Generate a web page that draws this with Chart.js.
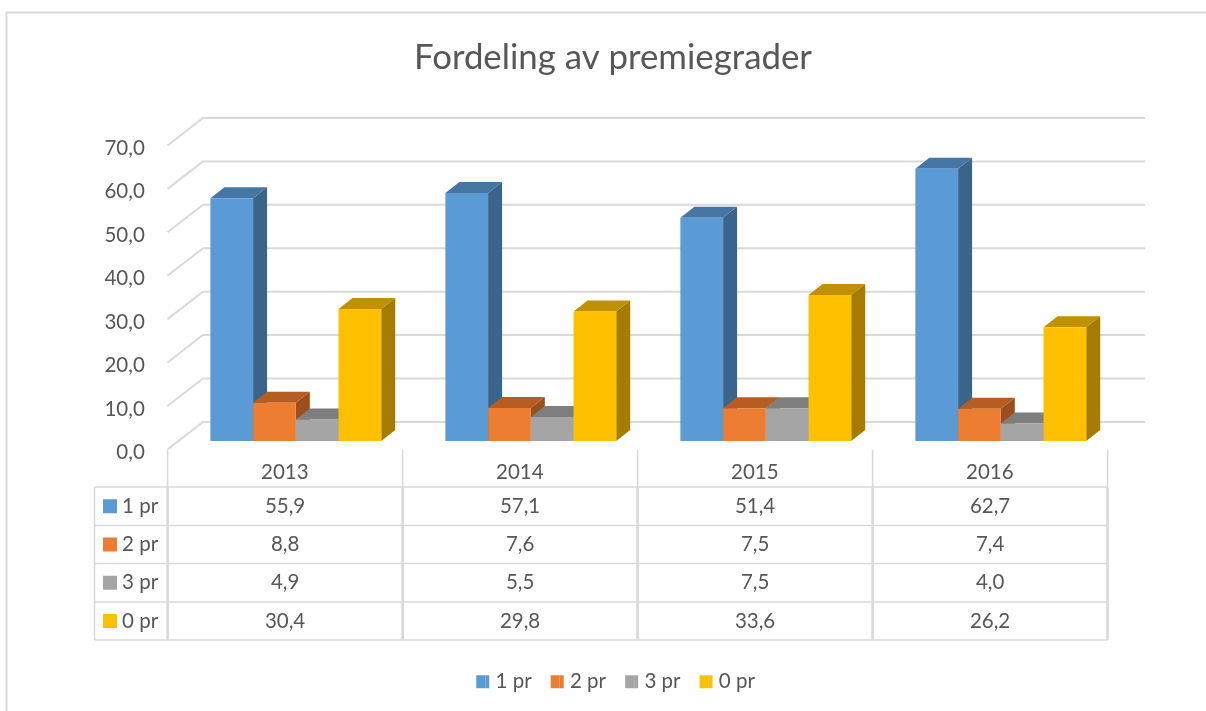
<!DOCTYPE html>
<html>
<head>
<meta charset="utf-8">
<style>html,body{margin:0;padding:0;background:#fff}canvas{display:block}</style>
<script src="https://cdn.jsdelivr.net/npm/chart.js@4"></script>
</head>
<body>
<canvas id="c" width="1206" height="711"></canvas>
<script>
const categories = ['2013', '2014', '2015', '2016'];
const seriesNames = ['1 pr', '2 pr', '3 pr', '0 pr'];
const pr1 = [55.9, 57.1, 51.4, 62.7];
const pr2 = [8.8, 7.6, 7.5, 7.4];
const pr3 = [4.9, 5.5, 7.5, 4.0];
const pr0 = [30.4, 29.8, 33.6, 26.2];
const frontColors = ['#5B9BD5', '#ED7D31', '#A5A5A5', '#FFC000'];
const topColors = ['#4676A3', '#B55D22', '#7E7E7E', '#C09100'];
const sideColors = ['#3A6489', '#9A4F1D', '#6A6A6A', '#A67C00'];
const allSeries = [pr1, pr2, pr3, pr0];

const GRID = '#d9d9d9', TEXT = '#575757';
const FONT = 'Lato', TXT = 20.5;
const fmt = v => Number(v).toFixed(1).replace('.', ',');
const titleShift = 9.7, legendShift = 12.3;

const depthPlugin = {
  id: 'depth',
  afterLayout(chart) {
    const t = chart.titleBlock, l = chart.legend;
    t.left += titleShift; t.right += titleShift;
    l.left += legendShift; l.right += legendShift;
  },
  beforeDraw(chart) {
    const c = chart.ctx;
    c.save();
    c.strokeStyle = GRID; c.lineWidth = 2;
    c.beginPath(); c.moveTo(6.5, 711); c.lineTo(6.5, 12.5); c.lineTo(1206, 12.5); c.stroke();
    c.restore();
  },
  beforeDatasetsDraw(chart) {
    const c = chart.ctx, y = chart.scales.y;
    c.save();
    c.strokeStyle = GRID; c.lineWidth = 2;
    y.ticks.forEach(t => {
      const p = y.getPixelForValue(t.value);
      c.beginPath();
      c.moveTo(167.5, p + 8.5);
      c.lineTo(203, p - 19);
      c.lineTo(1145, p - 19);
      c.stroke();
    });
    const dx = 14, dy = 11;
    categories.forEach((_, j) => {
      allSeries.forEach((_, i) => {
        const b = chart.getDatasetMeta(i).data[j];
        const l = b.x - b.width / 2, r = b.x + b.width / 2;
        c.fillStyle = topColors[i];
        c.beginPath();
        c.moveTo(l, b.y); c.lineTo(l + dx, b.y - dy); c.lineTo(r + dx, b.y - dy); c.lineTo(r, b.y);
        c.closePath(); c.fill();
        c.fillStyle = sideColors[i];
        c.beginPath();
        c.moveTo(r, b.y); c.lineTo(r + dx, b.y - dy); c.lineTo(r + dx, b.base - dy); c.lineTo(r, b.base);
        c.closePath(); c.fill();
      });
    });
    c.restore();
  },
  afterDraw(chart) {
    const c = chart.ctx, x = chart.scales.x;
    const shift = -10.7;
    const rows = [487, 525.5, 563.5, 602, 640];
    const left = 94.5;
    const band = x.getPixelForValue(1) - x.getPixelForValue(0);
    const vx = i => x.getPixelForValue(0) - band / 2 + i * band + shift;
    c.save();
    c.strokeStyle = GRID; c.lineWidth = 1.6;
    rows.forEach(r => { c.beginPath(); c.moveTo(left, r); c.lineTo(vx(4), r); c.stroke(); });
    c.beginPath(); c.moveTo(left, rows[0]); c.lineTo(left, rows[4]); c.stroke();
    for (let i = 0; i <= 4; i++) {
      c.lineWidth = 1.6;
      c.beginPath(); c.moveTo(vx(i), 450); c.lineTo(vx(i), rows[0]); c.stroke();
      c.lineWidth = 2.6;
      c.beginPath(); c.moveTo(vx(i), rows[0]); c.lineTo(vx(i), rows[4]); c.stroke();
    }
    c.font = TXT + 'px ' + FONT; c.textBaseline = 'middle';
    allSeries.forEach((s, i) => {
      const cy = (rows[i] + rows[i + 1]) / 2;
      c.fillStyle = frontColors[i];
      c.fillRect(103, cy - 7, 14, 14);
      c.fillStyle = TEXT;
      c.textAlign = 'left';
      c.fillText(seriesNames[i], 122, cy);
      c.textAlign = 'center';
      s.forEach((v, j) => c.fillText(fmt(v), x.getPixelForValue(j) + shift, cy));
    });
    // widen the legend swatches toward their labels
    chart.legend.legendHitBoxes.forEach((h, i) => {
      c.fillStyle = frontColors[i];
      c.fillRect(h.left + 9, h.top + (h.height - 13) / 2, 4, 13);
    });
    c.restore();
  }
};

new Chart(document.getElementById('c'), {
  type: 'bar',
  data: {
    labels: categories,
    datasets: allSeries.map((s, i) => ({
      label: seriesNames[i], data: s, backgroundColor: frontColors[i], borderWidth: 0,
      categoryPercentage: 0.727, barPercentage: 1
    }))
  },
  options: {
    responsive: false, animation: false,
    layout: { padding: { left: 88.3, right: 87.7, top: 0, bottom: 9 } },
    plugins: {
      tooltip: { enabled: false },
      title: {
        display: true, text: 'Fordeling av premiegrader', color: TEXT,
        font: { family: FONT, size: 34.8, weight: 'normal' }, padding: { top: 37, bottom: 58.2 }
      },
      legend: {
        position: 'bottom',
        labels: { boxWidth: 9, boxHeight: 13, padding: 19.1, color: TEXT, font: { family: FONT, size: TXT } }
      }
    },
    scales: {
      x: {
        afterFit(s) { s.height = 211.5; },
        grid: { display: false, drawTicks: false }, border: { display: false },
        ticks: { color: TEXT, font: { family: FONT, size: TXT }, padding: 19.5, labelOffset: -11, maxRotation: 0, autoSkip: false }
      },
      y: {
        min: 0, max: 70,
        afterFit(s) { s.width = 90; },
        grid: { display: false, drawTicks: false }, border: { display: false },
        ticks: { stepSize: 10, color: TEXT, font: { family: FONT, size: TXT }, padding: 33.5, labelOffset: 11.5, callback: v => fmt(v) }
      }
    }
  },
  plugins: [depthPlugin]
});
</script>
</body>
</html>
